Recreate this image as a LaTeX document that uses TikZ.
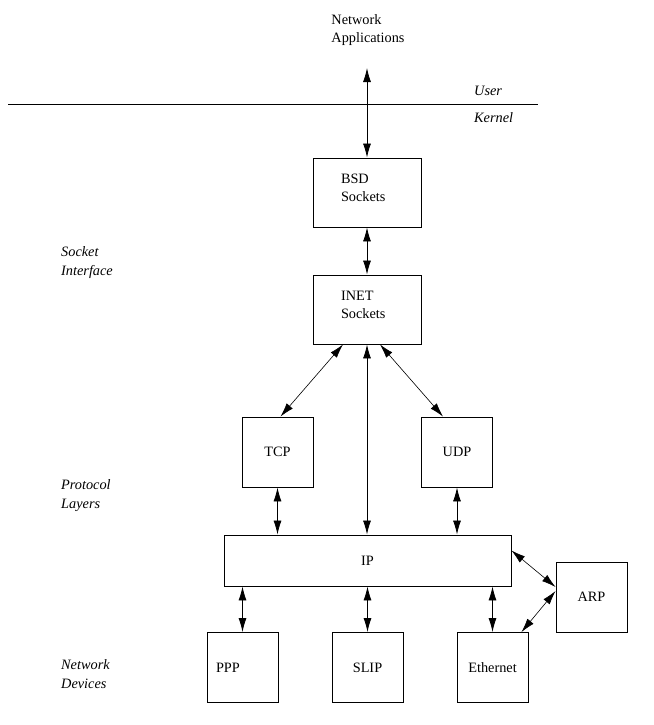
\documentclass[tikz,border=0pt]{standalone}
\usepackage{fontspec}
\setmainfont{Liberation Serif}
\usetikzlibrary{arrows.meta}
\begin{document}
\begin{tikzpicture}[x=1pt,y=-1pt,
  every node/.style={font=\rmfamily\fontsize{14.3}{18.5}\selectfont},
  box/.style={draw,line width=0.9pt,inner sep=0pt,minimum width=71pt,minimum height=70pt},
  lbl/.style={align=left,anchor=west,inner sep=0pt},
  ital/.style={lbl,font=\rmfamily\fontsize{14.3}{18.5}\selectfont\itshape},
  dbl/.style={>={Latex[length=14pt,width=8pt]},<->,line width=0.8pt},
  thin dbl/.style={>={Latex[length=14pt,width=8pt]},<->,line width=0.6pt}]
\useasboundingbox (0,0) rectangle (653,725);
% top
\node[align=left,inner sep=0pt] (apps) at (368,30) {Network\\Applications};
\coordinate (apptip) at (367,68);
\coordinate (sepL) at (8,104);
\coordinate (sepR) at (538,104);
\draw[line width=0.9pt] (sepL) -- (sepR);
\node[ital] (user) at (474,91) {User};
\node[ital] (kernel) at (474,118) {Kernel};
% left labels
\node[ital] (sockif) at (61,262.5) {Socket\\Interface};
\node[ital] (protl) at (61,495.5) {Protocol\\Layers};
\node[ital] (netdev) at (61,674) {Network\\Devices};
% boxes
\node[box,minimum width=108pt,minimum height=69pt,text width=52pt,align=left,text depth=28pt] (bsd) at (367,192.5) {BSD\\Sockets};
\node[box,minimum width=108pt,minimum height=69pt,text width=52pt,align=left,text depth=28pt] (inet) at (367,309.5) {INET\\Sockets};
\node[box] (tcp) at (277.5,452) {TCP};
\node[box] (udp) at (457,452) {UDP};
\node[box,minimum width=287pt,minimum height=51pt] (ip) at (367.5,560.5) {IP};
\node[box] (arp) at (591.5,597) {ARP};
\node[box,text width=53pt,align=left] (ppp) at (242.5,667.5) {PPP};
\node[box] (slip) at (367.5,667.5) {SLIP};
\node[box] (eth) at (492.5,667.5) {Ethernet};
% connectors
\draw[dbl] (apptip) -- (bsd.north);
\draw[dbl] (bsd.south) -- (inet.north);
\draw[thin dbl] ([xshift=-24pt]inet.south) -- ([xshift=3pt]tcp.north);
\draw[thin dbl] ([xshift=13pt]inet.south) -- ([xshift=-14pt]udp.north);
\draw[dbl] (inet.south) -- (inet.south |- ip.north);
\draw[dbl] (tcp.south) -- (tcp.south |- ip.north);
\draw[dbl] (udp.south) -- (udp.south |- ip.north);
\draw[dbl] (ppp.north |- ip.south) -- (ppp.north);
\draw[dbl] (slip.north |- ip.south) -- (slip.north);
\draw[dbl] (eth.north |- ip.south) -- (eth.north);
\draw[thin dbl] ([yshift=10pt]ip.east) -- ([yshift=10pt]arp.west);
\draw[thin dbl] ([xshift=29pt]eth.north) -- ([yshift=6pt]arp.west);
\end{tikzpicture}
\end{document}
